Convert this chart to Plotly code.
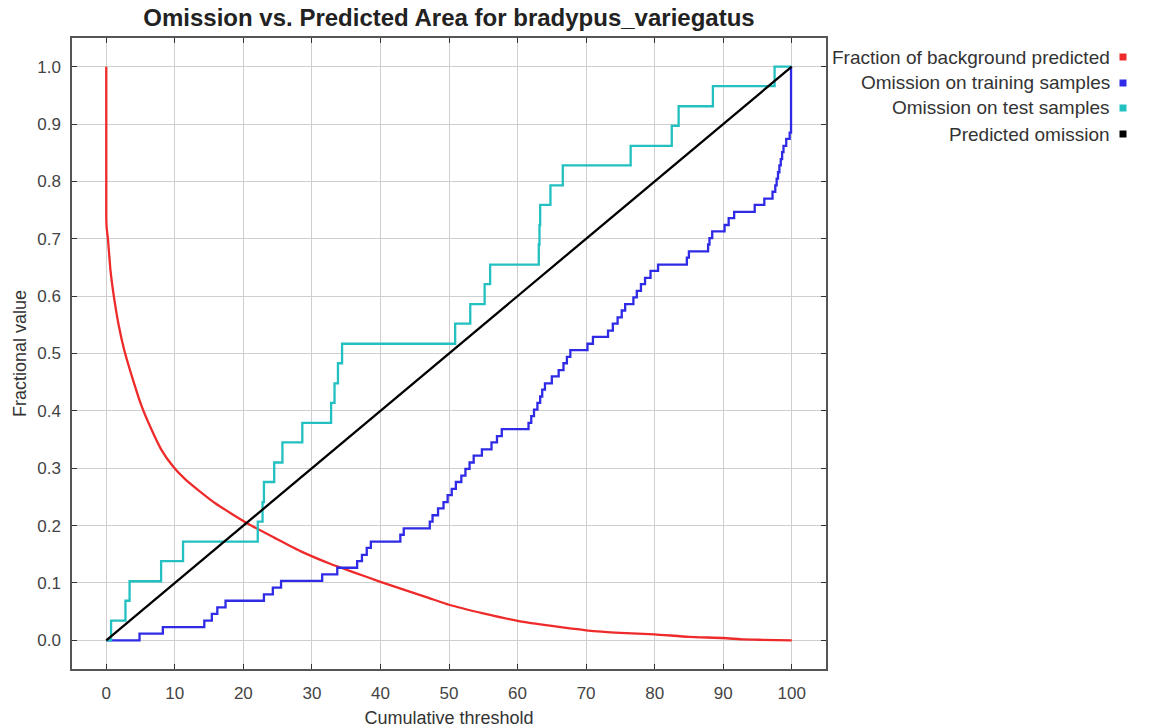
import plotly.graph_objects as go

# ---------------- data ----------------
x_ticks = [0, 10, 20, 30, 40, 50, 60, 70, 80, 90, 100]
y_ticks = [0.0, 0.1, 0.2, 0.3, 0.4, 0.5, 0.6, 0.7, 0.8, 0.9, 1.0]

bg_x = [0, 0, 0.05, 0.24, 0.63, 1.1, 1.8, 2.6, 4.0, 5.1, 6.5, 8.0, 9.75, 11.5, 13.5, 16.0, 18.5,
        21.0, 24.5, 28.4, 32.75, 36.0, 40, 46.8, 50, 55, 60, 65, 70, 75, 80, 85, 90, 93, 95, 100]
bg_y = [1.0, 0.736, 0.72, 0.70, 0.643, 0.60, 0.55, 0.507, 0.45, 0.41, 0.37, 0.333, 0.303, 0.281, 0.261,
        0.238, 0.219, 0.201, 0.179, 0.155, 0.133, 0.119, 0.102, 0.075, 0.062, 0.047, 0.034, 0.025,
        0.0175, 0.013, 0.0105, 0.006, 0.004, 0.0015, 0.001, 0.0]

train_x = [0, 4.85, 8.25, 14.3, 15.4, 16.2, 17.4, 23.0, 24.3, 25.5, 31.5, 33.7, 36.6, 37.3, 38.0, 38.6,
           42.9, 43.4, 47.2, 47.6, 48.4, 49.2, 49.8, 50.4, 51.0, 51.8, 52.4, 53.0, 53.6, 54.8, 56.2, 57.0,
           57.7, 61.6, 62.0, 62.4, 62.9, 63.3, 63.6, 64.0, 65.0, 66.0, 66.7, 67.2, 67.7, 70.2, 71.0, 73.2,
           73.9, 74.6, 75.2, 75.7, 76.9, 77.4, 78.0, 78.6, 79.4, 80.5, 84.7, 85.0, 87.8, 88.0, 88.4, 90.2,
           90.8, 91.6, 94.6, 96.0, 97.2, 97.6, 97.8, 98.0, 98.2, 98.4, 98.6, 98.8, 99.2, 99.7, 99.9]
train_y = [0, 0.0115, 0.023, 0.0345, 0.046, 0.0575, 0.069, 0.080, 0.092, 0.1035, 0.115, 0.1265, 0.138,
           0.149, 0.161, 0.172, 0.184, 0.195, 0.207, 0.218, 0.230, 0.241, 0.253, 0.264, 0.276, 0.287,
           0.299, 0.310, 0.322, 0.333, 0.345, 0.356, 0.368, 0.379, 0.391, 0.402, 0.414, 0.425, 0.437,
           0.448, 0.460, 0.471, 0.483, 0.494, 0.506, 0.517, 0.529, 0.540, 0.552, 0.563, 0.575, 0.586,
           0.598, 0.609, 0.621, 0.632, 0.644, 0.655, 0.667, 0.678, 0.690, 0.701, 0.713, 0.724, 0.736,
           0.747, 0.759, 0.770, 0.782, 0.793, 0.805, 0.816, 0.828, 0.839, 0.851, 0.862, 0.874, 0.885, 1.0]

test_x = [0, 0.7, 2.8, 3.4, 8.0, 11.2, 22.1, 22.8, 23.0, 24.5, 25.7, 28.6, 32.8, 33.3, 33.8, 34.4,
          50.9, 53.1, 55.2, 56.0, 63.1, 63.2, 63.3, 64.8, 66.6, 76.5, 82.5, 83.5, 88.5, 97.5, 100]
test_y = [0, 0.0345, 0.069, 0.103, 0.138, 0.172, 0.207, 0.241, 0.276, 0.310, 0.345, 0.379, 0.414,
          0.448, 0.483, 0.517, 0.552, 0.586, 0.621, 0.655, 0.690, 0.724, 0.759, 0.793, 0.828, 0.862,
          0.897, 0.931, 0.966, 1.0, 1.0]

pred_x = [0, 100]
pred_y = [0, 1]

series_names = ["Fraction of background predicted", "Omission on training samples",
                "Omission on test samples", "Predicted omission"]
series_colors = ["#ee2a2a", "#2f2ae6", "#22c0c0", "#000000"]

FONT = "Liberation Sans, Arial, sans-serif"

fig = go.Figure()
fig.add_trace(go.Scatter(x=bg_x, y=bg_y, mode="lines", name=series_names[0],
                         line=dict(color=series_colors[0], width=2.3, shape="spline", smoothing=0.5)))
fig.add_trace(go.Scatter(x=train_x, y=train_y, mode="lines", name=series_names[1],
                         line=dict(color=series_colors[1], width=2.3, shape="hv")))
fig.add_trace(go.Scatter(x=test_x, y=test_y, mode="lines", name=series_names[2],
                         line=dict(color=series_colors[2], width=2.3, shape="hv")))
fig.add_trace(go.Scatter(x=pred_x, y=pred_y, mode="lines", name=series_names[3],
                         line=dict(color=series_colors[3], width=2.3)))

L, R, T, B = 72, 826, 38, 669
W, H = 1173, 728
pw, ph = R - L, B - T

axis_common = dict(showline=True, linecolor="#555555", linewidth=1.5, mirror="ticks",
                   ticks="inside", ticklen=5, tickcolor="#333333", tickwidth=1.2,
                   showgrid=True, gridcolor="#cfcfcf", gridwidth=1, zeroline=False, automargin=False,
                   tickfont=dict(family=FONT, size=17, color="#444444"))

fig.update_xaxes(range=[-5, 105], tickvals=x_ticks, ticklabelstandoff=8,
                 title=dict(text="Cumulative threshold", font=dict(family=FONT, size=18, color="#333333"),
                            standoff=9), **axis_common)
fig.update_yaxes(range=[-0.05, 1.05], tickvals=y_ticks, tickformat=".1f", ticklabelstandoff=6,
                 title=dict(text="Fractional value", font=dict(family=FONT, size=18, color="#333333"),
                            standoff=6), **axis_common)

annotations = []
shapes = []
legend_rows_px = [57, 83, 108, 134]
text_right_px = 1112
square_px = 1123
for name, col, py in zip(series_names, series_colors, legend_rows_px):
    yp = (B - py) / ph
    annotations.append(dict(xref="paper", yref="paper", x=(text_right_px - L) / pw, y=yp,
                            xanchor="right", yanchor="middle", showarrow=False, text=name,
                            font=dict(family=FONT, size=19, color="#333333")))
    shapes.append(dict(type="rect", xref="paper", yref="paper", xsizemode="pixel", ysizemode="pixel",
                       xanchor=(square_px - L) / pw, yanchor=yp, x0=-3.5, x1=3.5, y0=-3.5, y1=3.5,
                       fillcolor=col, line=dict(width=0)))

fig.update_layout(
    width=W, height=H,
    margin=dict(l=L, r=W - R, t=T, b=H - B, autoexpand=False),
    paper_bgcolor="white", plot_bgcolor="white",
    showlegend=False,
    title=dict(text="<b>Omission vs. Predicted Area for bradypus_variegatus</b>",
               x=(449) / W, xanchor="center", y=1 - 18 / H, yanchor="middle",
               font=dict(family=FONT, size=24, color="#222222")),
    annotations=annotations, shapes=shapes,
)

fig.write_html("out.html", config={"displayModeBar": False},
               post_script="document.body.style.margin='0';")
